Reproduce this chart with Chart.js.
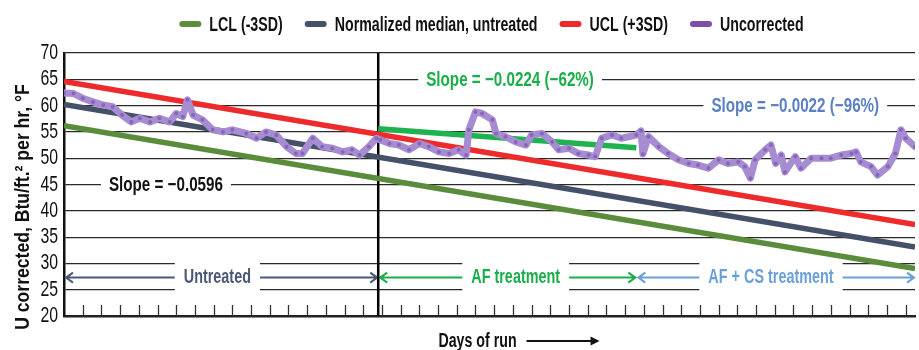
<!DOCTYPE html>
<html>
<head>
<meta charset="utf-8">
<script src="https://cdn.jsdelivr.net/npm/chart.js@4.4.1/dist/chart.umd.min.js"></script>
<style>
  html, body { margin: 0; padding: 0; background: #fff; }
</style>
</head>
<body>
<canvas id="chart" width="919" height="350"></canvas>
<script>
// control limits (straight lines over the whole run)
const limitDays = [0, 455];
const lclValues = [56.2, 29.0];
const medianValues = [60.2, 33.1];
const uclValues = [64.6, 37.4];

// fitted line during AF treatment
const afFitDays = [168, 306];
const afFitValues = [55.6, 52.0];

// uncorrected U
const uncDays = [0, 5, 10, 15.5, 21, 26, 31, 36, 40.5, 46, 51, 56.5, 60, 63.5, 66, 69, 74, 79.5, 85, 90,
  97.5, 103, 108, 113.5, 119, 124, 127.5, 133, 138, 143.5, 149, 154, 158, 163, 167, 169, 174, 179, 184.5, 190,
  195, 200.5, 206, 211, 215, 216.5, 220, 223.5, 229, 231, 236, 241.5, 247, 250, 255.5, 261, 264.5, 270, 275, 280.5,
  284, 287.5, 293, 298, 306, 308.5, 309.5, 312.5, 318, 323, 328.5, 334, 339, 344.5, 350, 355, 360.5, 364, 367, 369.5,
  375, 378, 380.5, 383.5, 385.5, 391, 394, 399.5, 405, 410, 415.5, 421, 423.5, 426, 431.5, 435, 440.5, 444.5, 447.5, 450, 455];
const uncValues = [62.4, 62.3, 61.4, 60.7, 60.1, 59.8, 58.2, 56.9, 57.6, 56.9, 57.6, 56.9, 58.5, 57.9, 61.1, 58.2, 57.3, 55.4, 55.0, 55.4,
  54.7, 53.8, 55.0, 54.4, 52.2, 50.9, 50.9, 53.8, 52.2, 51.9, 51.2, 51.6, 50.6, 52.2, 53.8, 53.5, 52.8, 52.5, 51.6, 52.8,
  52.2, 51.2, 50.9, 51.6, 50.6, 55.4, 58.8, 58.5, 57.3, 54.7, 54.1, 53.1, 52.5, 54.4, 54.7, 53.1, 51.6, 51.9, 50.9, 50.6,
  50.3, 53.8, 54.4, 53.8, 54.4, 55.2, 50.8, 54.1, 52.2, 50.9, 49.7, 49.0, 48.7, 48.1, 49.7, 49.0, 49.3, 48.4, 46.2, 49.7,
  51.6, 52.5, 49.0, 50.6, 47.4, 50.3, 48.1, 50.0, 50.0, 50.0, 50.6, 50.9, 51.2, 49.3, 48.4, 46.8, 48.4, 50.9, 55.4, 53.8, 52.2];

const yTicks = [20, 25, 30, 35, 40, 45, 50, 55, 60, 65, 70];
const treatmentStart = 168;
const tickStep = 10;

const legendLabels = ['LCL (-3SD)', 'Normalized median, untreated', 'UCL (+3SD)', 'Uncorrected'];
const legendColors = ['#5b8c3c', '#455168', '#ee2b2c', '#7b4fa6'];

const slopeNotes = [
  { text: 'Slope = \u22120.0596', day: 54.5, value: 45, color: '#111111' },
  { text: 'Slope = \u22120.0224 (\u221262%)', day: 238.5, value: 65, color: '#1aae4b' },
  { text: 'Slope = \u22120.0022 (\u221296%)', day: 391, value: 60, color: '#5b80c5' }
];

const periods = [
  { text: 'Untreated', from: 0, to: 168, labelDay: 82, color: '#4b5875' },
  { text: 'AF treatment', from: 168, to: 306, labelDay: 241.5, color: '#19ad4b' },
  { text: 'AF + CS treatment', from: 306, to: 455, labelDay: 378, color: '#6a9fd8' }
];
const periodValue = 27.3;

const FONT = '"Liberation Sans", Arial, sans-serif';

function pts(xs, ys) { return xs.map((d, i) => ({ x: d, y: ys[i] })); }

// condensed text: the original uses a narrow face, so squeeze horizontally
function narrowText(ctx, text, x, y, font, sx, align) {
  ctx.save();
  ctx.font = font;
  const w = ctx.measureText(text).width * sx;
  const left = align === 'center' ? x - w / 2 : align === 'right' ? x - w : x;
  ctx.translate(left, y);
  ctx.scale(sx, 1);
  ctx.textAlign = 'left';
  ctx.textBaseline = 'middle';
  ctx.fillText(text, 0, 0);
  ctx.restore();
  return w;
}

function textWidth(ctx, text, font, sx) {
  ctx.save(); ctx.font = font;
  const w = ctx.measureText(text).width * sx;
  ctx.restore();
  return w;
}

function arrow(ctx, x1, x2, y, headAt) {
  ctx.beginPath();
  ctx.moveTo(x1, y); ctx.lineTo(x2, y);
  const tip = headAt === 'left' ? x1 : x2;
  const dir = headAt === 'left' ? 1 : -1;
  ctx.moveTo(tip + dir * 7, y - 5); ctx.lineTo(tip, y); ctx.lineTo(tip + dir * 7, y + 5);
  ctx.stroke();
}

const NOTE_FONT = 'bold 20px ' + FONT;

const decor = {
  id: 'decor',
  beforeDatasetsDraw(chart) {
    const { ctx, chartArea: a, scales: { x, y } } = chart;
    ctx.save();

    // tick marks pointing into the plot
    ctx.strokeStyle = '#333';
    ctx.lineWidth = 1.3;
    for (let d = tickStep; d < x.max; d += tickStep) {
      const px = Math.round(x.getPixelForValue(d)) + 0.5;
      ctx.beginPath(); ctx.moveTo(px, a.bottom); ctx.lineTo(px, a.bottom - 11); ctx.stroke();
    }

    // slope notes sitting on gridlines
    slopeNotes.forEach(n => {
      const cx = x.getPixelForValue(n.day), cy = y.getPixelForValue(n.value);
      const w = textWidth(ctx, n.text, NOTE_FONT, 0.76);
      ctx.fillStyle = '#fff';
      ctx.fillRect(cx - w / 2 - 8, cy - 10, w + 16, 20);
      ctx.fillStyle = n.color;
      narrowText(ctx, n.text, cx, cy + 1, NOTE_FONT, 0.76, 'center');
    });

    // period spans with arrows
    const cy = y.getPixelForValue(periodValue);
    const boxTop = y.getPixelForValue(30) - 5, boxBot = y.getPixelForValue(25) + 5;
    ctx.lineWidth = 2;
    periods.forEach(p => {
      const l = x.getPixelForValue(p.from) + 1, r = x.getPixelForValue(p.to) - 1;
      const cx = x.getPixelForValue(p.labelDay);
      const w = textWidth(ctx, p.text, NOTE_FONT, 0.72);
      const bl = cx - w / 2 - 9, br = cx + w / 2 + 9;
      ctx.fillStyle = '#fff';
      ctx.fillRect(bl, boxTop, br - bl, boxBot - boxTop);
      ctx.strokeStyle = p.color;
      arrow(ctx, l + 1, bl, cy, 'left');
      arrow(ctx, br, r, cy, 'right');
      ctx.fillStyle = p.color;
      narrowText(ctx, p.text, cx, cy, NOTE_FONT, 0.72, 'center');
    });

    // start of treatment
    const vx = x.getPixelForValue(treatmentStart);
    ctx.strokeStyle = '#000';
    ctx.lineWidth = 2.5;
    ctx.beginPath(); ctx.moveTo(vx, a.top); ctx.lineTo(vx, a.bottom); ctx.stroke();
    ctx.restore();
  },
  afterDraw(chart) {
    const { ctx, chartArea: a, scales: { x, y } } = chart;
    ctx.save();
    ctx.fillStyle = '#111';

    // y tick labels
    yTicks.forEach(v => narrowText(ctx, String(v), a.left - 6, y.getPixelForValue(v), '22px ' + FONT, 0.72, 'right'));

    // legend
    const lfont = 'bold 20px ' + FONT, lsx = 0.71;
    const widths = legendLabels.map(t => textWidth(ctx, t, lfont, lsx));
    const total = widths.reduce((s, w) => s + w + 30, 0) + 22 * (legendLabels.length - 1);
    let lx = (a.left + a.right) / 2 + 2 - total / 2;
    const ly = 24;
    legendLabels.forEach((t, i) => {
      ctx.strokeStyle = legendColors[i];
      ctx.lineWidth = 6;
      ctx.lineCap = 'round';
      ctx.beginPath(); ctx.moveTo(lx + 3, ly); ctx.lineTo(lx + 19, ly); ctx.stroke();
      narrowText(ctx, t, lx + 30, ly + 1, lfont, lsx, 'left');
      lx += widths[i] + 30 + 22;
    });

    // axis titles
    ctx.save();
    ctx.translate(23, 207);
    ctx.rotate(-Math.PI / 2);
    narrowText(ctx, 'U corrected, Btu/ft.\u00b2 per hr, \u00b0F', 0, 0, 'bold 20px ' + FONT, 0.88, 'center');
    ctx.restore();

    const tfont = 'bold 20px ' + FONT;
    const tx = (a.left + a.right) / 2 - 12;
    const ty = 341;
    const tw = textWidth(ctx, 'Days of run', tfont, 0.71);
    narrowText(ctx, 'Days of run', tx, ty, tfont, 0.71, 'center');
    ctx.strokeStyle = '#111';
    ctx.lineWidth = 2;
    ctx.lineCap = 'butt';
    const ax1 = tx + tw / 2 + 10, ax2 = ax1 + 73;
    ctx.beginPath(); ctx.moveTo(ax1, ty); ctx.lineTo(ax2 - 6, ty); ctx.stroke();
    ctx.beginPath(); ctx.moveTo(ax2, ty); ctx.lineTo(ax2 - 9, ty - 4.5); ctx.lineTo(ax2 - 9, ty + 4.5); ctx.closePath(); ctx.fill();
    ctx.restore();
  }
};

const lineBase = { pointRadius: 0, borderWidth: 5.5, fill: false, tension: 0, borderCapStyle: 'butt' };

new Chart(document.getElementById('chart'), {
  type: 'line',
  data: {
    datasets: [
      { ...lineBase, label: 'Uncorrected', data: pts(uncDays, uncValues), borderColor: '#a68dd2', backgroundColor: '#7b4fa6',
        borderWidth: 7, borderJoinStyle: 'round', borderCapStyle: 'round',
        pointRadius: 2, pointBorderWidth: 0, pointBackgroundColor: '#8a63bb', order: 0 },
      { ...lineBase, label: 'AF fit', data: pts(afFitDays, afFitValues), borderColor: '#1fb34f', order: 1 },
      { ...lineBase, label: 'UCL (+3SD)', data: pts(limitDays, uclValues), borderColor: '#ee2b2c', order: 2 },
      { ...lineBase, label: 'Normalized median, untreated', data: pts(limitDays, medianValues), borderColor: '#455168', order: 3 },
      { ...lineBase, label: 'LCL (-3SD)', data: pts(limitDays, lclValues), borderColor: '#5b8c3c', order: 4 }
    ]
  },
  options: {
    responsive: false,
    animation: false,
    layout: { padding: { top: 53, right: 2, left: 0, bottom: 0 } },
    plugins: { legend: { display: false }, tooltip: { enabled: false } },
    scales: {
      x: {
        type: 'linear', min: 0, max: 455,
        ticks: { display: false },
        grid: { display: false },
        border: { display: true, color: '#222', width: 2.5 },
        afterFit(s) { s.height = 34; }
      },
      y: {
        min: 20, max: 70,
        ticks: { stepSize: 5, autoSkip: false, display: false },
        grid: { color: '#2a2a2a', lineWidth: 1.2, drawTicks: false },
        border: { display: true, color: '#111', width: 2.5 },
        afterFit(s) { s.width = 64; }
      }
    }
  },
  plugins: [decor]
});
</script>
</body>
</html>
